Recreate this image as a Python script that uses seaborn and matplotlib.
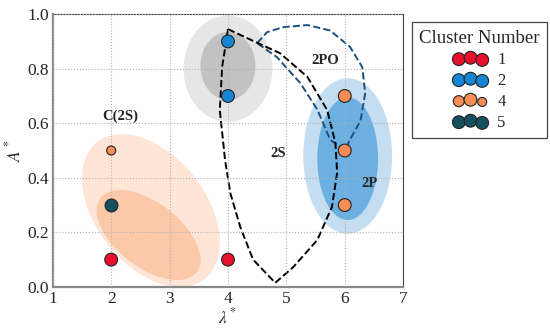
import numpy as np
import pandas as pd
import matplotlib
matplotlib.use("Agg")
import matplotlib.pyplot as plt
import seaborn as sns

# dados dos clusters
lam = [2, 4, 4, 4, 2, 6, 6, 6, 2]
amp = [0.1, 0.1, 0.9, 0.7, 0.5, 0.7, 0.5, 0.3, 0.3]
cluster = ['1', '1', '2', '2', '4', '4', '4', '4', '5']
tamanho = [85, 85, 85, 85, 42, 85, 85, 85, 85]

cores = {'1': '#e8102c', '2': '#1685d3', '4': '#f78c55', '5': '#15505f'}

# elipses: centro x, centro y, meia-largura x, meia-altura y, correlacao
elipses_cx = [4.0, 4.0, 6.05, 6.05, 2.68, 2.64]
elipses_cy = [0.80, 0.81, 0.48, 0.47, 0.28, 0.19]
elipses_sx = [0.76, 0.47, 0.76, 0.52, 1.18, 0.89]
elipses_sy = [0.195, 0.125, 0.285, 0.225, 0.28, 0.165]
elipses_rho = [0, 0, 0, 0, -0.42, -0.55]
elipses_cor = ['#e6e6e6', '#c2c2c2', '#c4ddf1', '#6cb0e2', '#fee5d6', '#fbc9a8']

# curvas tracejadas
s2_x = [4.0, 4.45, 4.89, 5.36, 5.70, 5.84, 5.87, 5.78, 5.53, 5.12, 4.81,
        4.43, 4.21, 4.04, 3.95, 3.86, 3.90, 3.98, 4.0]
s2_y = [0.945, 0.90, 0.857, 0.77, 0.648, 0.527, 0.418, 0.293, 0.172, 0.073, 0.015,
        0.10, 0.22, 0.344, 0.465, 0.648, 0.806, 0.916, 0.945]
po_x = [4.50, 4.67, 4.94, 5.36, 5.75, 6.09, 6.30, 6.35, 6.27, 6.09, 6.0,
        5.75, 5.53, 5.24, 4.84, 4.50]
po_y = [0.894, 0.934, 0.952, 0.96, 0.94, 0.88, 0.806, 0.71, 0.61, 0.54, 0.50,
        0.54, 0.65, 0.747, 0.842, 0.894]

rotulos = ['C(2S)', '2S', '2PO', '2P']
rot_x = [2.15, 4.86, 5.67, 6.42]
rot_y = [0.625, 0.49, 0.83, 0.38]

df = pd.DataFrame({'lam': lam, 'A': amp, 'cluster': cluster, 's': tamanho})

sns.set_style('white')
plt.rcParams['font.family'] = ['Liberation Serif', 'DejaVu Serif']
plt.rcParams['mathtext.fontset'] = 'stix'

fig = plt.figure(figsize=(5.5, 3.29), dpi=100)
ax = fig.add_axes([0.096, 0.128, 0.637, 0.829])

t = np.linspace(0, 2 * np.pi, 200)
for cx, cy, sx, sy, r, c in zip(elipses_cx, elipses_cy, elipses_sx, elipses_sy,
                                elipses_rho, elipses_cor):
    ex = cx + sx * np.cos(t)
    ey = cy + sy * (r * np.cos(t) + np.sqrt(1 - r ** 2) * np.sin(t))
    ax.fill(ex, ey, color=c, lw=0, zorder=1)

ax.plot(po_x, po_y, ls='--', color='#1d4f80', lw=1.4, zorder=2)
ax.plot(s2_x, s2_y, ls='--', color='black', lw=1.4, zorder=2)

for k in ['1', '2', '4', '5']:
    sub = df[df['cluster'] == k]
    sns.scatterplot(data=sub, x='lam', y='A', s=sub['s'].values, color=cores[k],
                    edgecolor='#222222', linewidth=0.8, label=k, ax=ax, zorder=3)

for txt, x, y in zip(rotulos, rot_x, rot_y):
    ax.text(x, y, txt, ha='center', va='center', fontsize=10.5, fontweight='bold', zorder=4)

ax.set_xlim(1, 7)
ax.set_ylim(0, 1.0)
ax.set_xticks(range(1, 8))
ax.set_yticks([0.0, 0.2, 0.4, 0.6, 0.8, 1.0])
ax.set_yticklabels(['0.0', '0.2', '0.4', '0.6', '0.8', '1.0'])
ax.grid(True, ls=':', color='#b0b0b0', lw=0.8, zorder=0)
ax.set_axisbelow(False)
ax.tick_params(labelsize=12.5, length=2, color='#888888', pad=1)
ax.set_xlabel(r'$\lambda^*$', fontsize=12.5, labelpad=0)
ax.set_ylabel(r'$A^*$', fontsize=12.5, labelpad=2)
for side in ['left', 'bottom']:
    ax.spines[side].set_color('#888888')
    ax.spines[side].set_linewidth(1.6)
for side in ['top', 'right']:
    ax.spines[side].set_color('#444444')
    ax.spines[side].set_linewidth(0.8)

leg = ax.legend(title='Cluster Number', scatterpoints=3, loc='upper left',
                bbox_to_anchor=(0.749, 0.933), bbox_transform=fig.transFigure,
                borderaxespad=0, alignment='center',
                fancybox=False, edgecolor='#444444', fontsize=12, title_fontsize=13.5,
                handletextpad=0.6, borderpad=0.45, labelspacing=0.3, framealpha=1)
leg.get_frame().set_linewidth(0.9)

fig.savefig('out.png', dpi=100)
